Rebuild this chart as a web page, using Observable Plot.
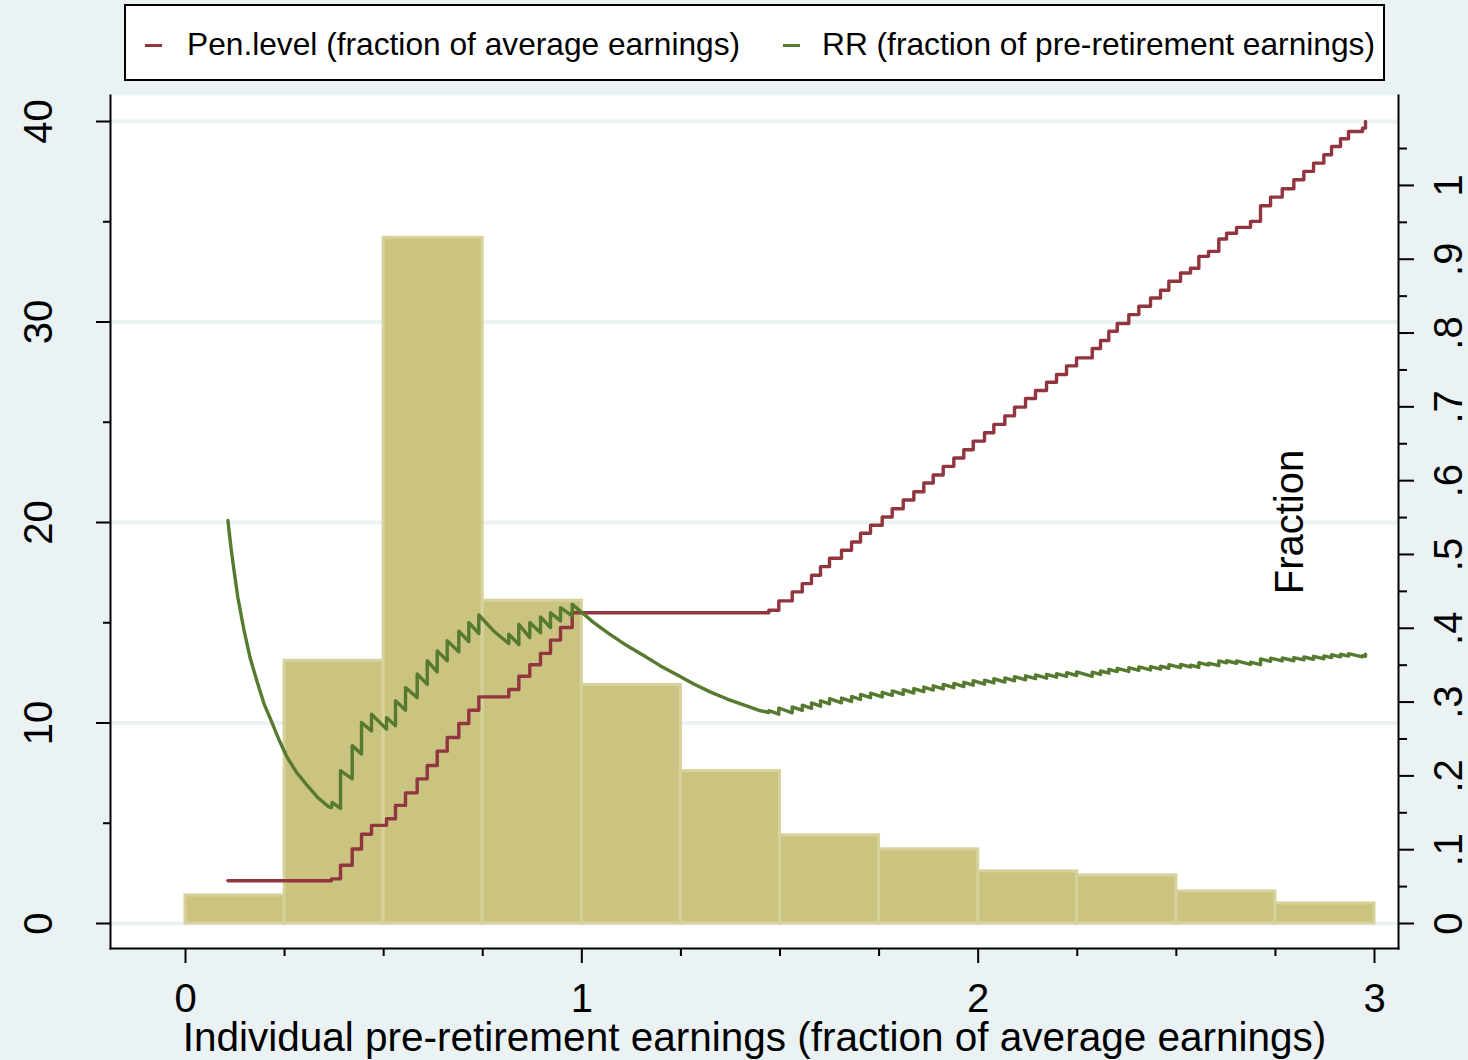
<!DOCTYPE html>
<html>
<head>
<meta charset="utf-8">
<script src="https://cdn.jsdelivr.net/npm/d3@7"></script>
<script src="https://cdn.jsdelivr.net/npm/@observablehq/plot@0.6"></script>
<style>
  html, body { margin: 0; padding: 0; background: #EAF2F3; }
  #page { position: relative; width: 1468px; height: 1060px; background: #EAF2F3;
          font-family: "Liberation Sans", Arial, sans-serif; overflow: hidden; }
  #legend { position: absolute; left: 124px; top: 4px; width: 1261px; height: 77px;
            box-sizing: border-box; border: 2px solid #000; background: #fff; }
  .sw { position: absolute; width: 17px; height: 3px; top: 38px; }
  .lt { position: absolute; top: 23px; font-size: 31.7px; line-height: 1; color: #000; white-space: nowrap; }
  #chart { position: absolute; left: 0; top: 88px; }
</style>
</head>
<body>
<div id="page">
  <div id="legend"></div>
  <div id="chart"></div>
</div>
<script>
// Histogram: share of individuals (percent) by pre-retirement earnings bin (width 0.25)
const binStart = [0, 0.25, 0.5, 0.75, 1, 1.25, 1.5, 1.75, 2, 2.25, 2.5, 2.75];
const binWidth = 0.25;
const binPercent = [1.4, 13.1, 34.2, 16.1, 11.9, 7.6, 4.4, 3.7, 2.6, 2.4, 1.6, 1.0];

// Pension level (fraction of average earnings): step start and level of each step
const penX = [0.107, 0.3684, 0.3911, 0.4206, 0.4441, 0.4693, 0.5072, 0.5299, 0.5551, 0.5846, 0.6099,
  0.6351, 0.6603, 0.6896, 0.7148, 0.7401, 0.8157, 0.8410, 0.8687, 0.8957, 0.9210, 0.9462, 0.9757,
  1.4718, 1.4970, 1.5308, 1.5561, 1.5795, 1.6022, 1.6249, 1.6552, 1.6805, 1.7032, 1.7284, 1.7579,
  1.7831, 1.8109, 1.8377, 1.8629, 1.8866, 1.9118, 1.9386, 1.9638, 1.9875, 2.0160, 2.0395, 2.0673,
  2.0917, 2.1195, 2.1447, 2.1725, 2.1977, 2.2229, 2.2482, 2.2878, 2.3087, 2.3297, 2.3509, 2.3801,
  2.4054, 2.4349, 2.4601, 2.4811, 2.5106, 2.5358, 2.5568, 2.5812, 2.6072, 2.6267, 2.6519, 2.6872,
  2.7124, 2.7377, 2.7672, 2.7965, 2.8217, 2.8462, 2.8722, 2.8916, 2.9142, 2.9344, 2.9697, 2.9773];
const penLevel = [0.058, 0.0605, 0.079, 0.101, 0.121, 0.133, 0.142, 0.160, 0.177, 0.196, 0.214,
  0.2335, 0.252, 0.271, 0.289, 0.307, 0.317, 0.335, 0.3505, 0.366, 0.384, 0.401, 0.421,
  0.4245, 0.4371, 0.4493, 0.4605, 0.4719, 0.4835, 0.4949, 0.5057, 0.5169, 0.5287, 0.5395, 0.5508,
  0.5620, 0.5738, 0.5850, 0.5968, 0.6076, 0.6194, 0.6306, 0.6418, 0.6536, 0.6648, 0.6762, 0.6878,
  0.6996, 0.7114, 0.7222, 0.7334, 0.7439, 0.7555, 0.7663, 0.7790, 0.7899, 0.8024, 0.8129, 0.8250,
  0.8363, 0.8475, 0.8579, 0.8701, 0.8813, 0.8877, 0.9039, 0.9107, 0.9274, 0.9351, 0.9432, 0.9513,
  0.9725, 0.9842, 0.9955, 1.0077, 1.0190, 1.0302, 1.0416, 1.0528, 1.0632, 1.0731, 1.0776, 1.0866];

// Replacement rate (fraction of pre-retirement earnings): [earnings, rate]
const rrPoints = [
  [0.107, 0.546], [0.115, 0.508], [0.122, 0.480], [0.132, 0.442], [0.147, 0.399], [0.163, 0.360],
  [0.181, 0.327], [0.198, 0.298], [0.2145, 0.277], [0.235, 0.250], [0.2566, 0.225], [0.280, 0.205],
  [0.307, 0.187], [0.335, 0.170], [0.3616, 0.158], [0.3684, 0.157], [0.3700, 0.164], [0.3911, 0.156],
  [0.3911, 0.207], [0.4206, 0.196], [0.4206, 0.241], [0.4441, 0.2296], [0.4441, 0.2724], [0.4693, 0.261],
  [0.4693, 0.2836], [0.5072, 0.2634], [0.5072, 0.279], [0.5299, 0.268], [0.5299, 0.3018], [0.5551, 0.289],
  [0.5551, 0.3198], [0.5846, 0.306], [0.5846, 0.338], [0.6099, 0.324], [0.6099, 0.356], [0.6351, 0.341],
  [0.6351, 0.3694], [0.6603, 0.356], [0.6603, 0.383], [0.6896, 0.368], [0.6896, 0.396], [0.7148, 0.382],
  [0.7148, 0.4077], [0.7401, 0.393], [0.7401, 0.418], [0.778, 0.396], [0.8157, 0.3793], [0.8157, 0.392],
  [0.8410, 0.378], [0.8410, 0.4055], [0.8687, 0.3873], [0.8687, 0.4077], [0.8957, 0.394], [0.8957, 0.4154],
  [0.9210, 0.401], [0.9210, 0.421], [0.9462, 0.410], [0.9462, 0.428], [0.9757, 0.4168], [0.9757, 0.4326],
  [1.030, 0.4077], [1.070, 0.392], [1.1145, 0.3762], [1.156, 0.363], [1.1985, 0.349], [1.240, 0.337],
  [1.2825, 0.3244], [1.325, 0.3135], [1.3668, 0.3041], [1.410, 0.296], [1.4508, 0.2882], [1.4718, 0.2859],
  [1.4718, 0.2884], [1.4970, 0.2836], [1.4970, 0.2920], [1.5308, 0.2855], [1.5308, 0.2935], [1.5561, 0.2887],
  [1.5561, 0.2959], [1.5795, 0.2915], [1.5795, 0.2988], [1.6022, 0.2945], [1.6022, 0.3018], [1.6249, 0.2976],
  [1.6249, 0.3046], [1.6552, 0.2990], [1.6552, 0.3055], [1.6805, 0.3009], [1.6805, 0.3076], [1.7032, 0.3035],
  [1.7032, 0.3104], [1.7284, 0.3059], [1.7284, 0.3121], [1.7579, 0.3069], [1.7579, 0.3133], [1.7831, 0.3089],
  [1.7831, 0.3152], [1.8109, 0.3103], [1.8109, 0.3169], [1.8377, 0.3122], [1.8377, 0.3183], [1.8629, 0.3140],
  [1.8629, 0.3204], [1.8866, 0.3163], [1.8866, 0.3221], [1.9118, 0.3178], [1.9118, 0.3240], [1.9386, 0.3195],
  [1.9386, 0.3253], [1.9638, 0.3211], [1.9638, 0.3268], [1.9875, 0.3229], [1.9875, 0.3289], [2.0160, 0.3242],
  [2.0160, 0.3298], [2.0395, 0.3260], [2.0395, 0.3316], [2.0673, 0.3271], [2.0673, 0.3327], [2.0917, 0.3288],
  [2.0917, 0.3345], [2.1195, 0.3301], [2.1195, 0.3356], [2.1447, 0.3317], [2.1447, 0.3367], [2.1725, 0.3324],
  [2.1725, 0.3376], [2.1977, 0.3337], [2.1977, 0.3385], [2.2229, 0.3347], [2.2229, 0.3399], [2.2482, 0.3360],
  [2.2482, 0.3408], [2.2878, 0.3349], [2.2878, 0.3405], [2.3087, 0.3374], [2.3087, 0.3421], [2.3297, 0.3391],
  [2.3297, 0.3444], [2.3509, 0.3413], [2.3509, 0.3458], [2.3801, 0.3415], [2.3801, 0.3466], [2.4054, 0.3430],
  [2.4054, 0.3477], [2.4349, 0.3435], [2.4349, 0.3481], [2.4601, 0.3445], [2.4601, 0.3487], [2.4811, 0.3458],
  [2.4811, 0.3507], [2.5106, 0.3466], [2.5106, 0.3510], [2.5358, 0.3475], [2.5358, 0.3501], [2.5568, 0.3472],
  [2.5568, 0.3535], [2.5812, 0.3502], [2.5812, 0.3528], [2.6072, 0.3493], [2.6072, 0.3557], [2.6267, 0.3531],
  [2.6267, 0.3560], [2.6519, 0.3526], [2.6519, 0.3557], [2.6872, 0.3510], [2.6872, 0.3540], [2.7124, 0.3507],
  [2.7124, 0.3585], [2.7377, 0.3552], [2.7377, 0.3595], [2.7672, 0.3557], [2.7672, 0.3597], [2.7965, 0.3560],
  [2.7965, 0.3603], [2.8217, 0.3571], [2.8217, 0.3611], [2.8462, 0.3580], [2.8462, 0.3620], [2.8722, 0.3587],
  [2.8722, 0.3626], [2.8916, 0.3602], [2.8916, 0.3641], [2.9142, 0.3613], [2.9142, 0.3648], [2.9344, 0.3623],
  [2.9344, 0.3657], [2.9697, 0.3613], [2.9697, 0.3629], [2.9773, 0.3619], [2.9773, 0.3650]
];

// Series names and colours
const seriesNames = ["Pen.level (fraction of average earnings)", "RR (fraction of pre-retirement earnings)"];
const seriesColors = ["#91353F", "#567A2F"];

// Axes
const xMajor = [0, 1, 2, 3];
const xLabels = ["0", "1", "2", "3"];
const xMinor = [0.25, 0.5, 0.75, 1.25, 1.5, 1.75, 2.25, 2.5, 2.75];
const leftMajor = [0, 10, 20, 30, 40];
const leftMinor = [5, 15, 25, 35];
const fracMajor = [0, 0.1, 0.2, 0.3, 0.4, 0.5, 0.6, 0.7, 0.8, 0.9, 1];
const fracLabels = ["0", ".1", ".2", ".3", ".4", ".5", ".6", ".7", ".8", ".9", "1"];
const fracMinor = [0.05, 0.15, 0.25, 0.35, 0.45, 0.55, 0.65, 0.75, 0.85, 0.95, 1.05];
const xTitle = "Individual pre-retirement earnings (fraction of average earnings)";
const yRightTitle = "Fraction";

// Legend
const legend = document.getElementById("legend");
const swX = [19, 657], txtX = [61, 696];
seriesNames.forEach((name, i) => {
  const sw = document.createElement("div");
  sw.className = "sw"; sw.style.left = swX[i] + "px"; sw.style.background = seriesColors[i];
  const t = document.createElement("div");
  t.className = "lt"; t.style.left = txtX[i] + "px"; t.textContent = name;
  legend.appendChild(sw); legend.appendChild(t);
});

// Tables for the marks
const bins = binStart.map((x0, i) => ({x0, x1: x0 + binWidth, pct: binPercent[i]}));
const pen = penX.map((x, i) => ({x, v: penLevel[i]}));
const rr = rrPoints.map(([x, v]) => ({x, v}));

// The right (fraction) axis shares the plot height: its top matches the highest pension level
const k = 40 / d3.max(penLevel);
const frac = v => v * k;
const fracLabel = v => fracLabels[fracMajor.findIndex(f => Math.abs(frac(f) - v) < 1e-6)];
const xLabel = v => xLabels[xMajor.indexOf(v)];

const chart = Plot.plot({
  width: 1468,
  height: 972,
  marginLeft: 110,
  marginRight: 70,
  marginTop: 7,
  marginBottom: 112,
  x: {domain: [0, 3], range: [185, 1374], label: null},
  y: {domain: [0, 40], range: [835, 33], label: null},
  style: {fontFamily: '"Liberation Sans", Arial, sans-serif', background: "transparent", overflow: "visible"},
  marks: [
    Plot.frame({fill: "white", stroke: null}),
    Plot.gridY(leftMajor, {stroke: "#EAF2F3", strokeOpacity: 1, strokeWidth: 4}),
    Plot.rectY(bins, {x1: "x0", x2: "x1", y: "pct", fill: "#CBC380", stroke: "#D7D29C", strokeWidth: 3, inset: 0}),
    Plot.line(pen, {x: "x", y: d => frac(d.v), curve: "step-after", stroke: seriesColors[0], strokeWidth: 3.4}),
    Plot.line(rr, {x: "x", y: d => frac(d.v), stroke: seriesColors[1], strokeWidth: 3.4}),
    Plot.text([yRightTitle], {text: d => d, frameAnchor: "right", dx: -96, rotate: -90,
      textAnchor: "middle", lineAnchor: "bottom", fontSize: 40}),
    Plot.text([xTitle], {text: d => d, frameAnchor: "bottom", dy: 102, lineAnchor: "bottom", fontSize: 40.5}),
    Plot.axisY(leftMajor, {anchor: "left", tickSize: 14, tickPadding: 45, tickRotate: -90,
      textAnchor: "middle", lineAnchor: "bottom", fontSize: 40, label: null, strokeWidth: 2}),
    Plot.axisY(leftMinor, {anchor: "left", tickSize: 7, tickFormat: () => "", label: null, strokeWidth: 2}),
    Plot.axisY(fracMajor.map(frac), {anchor: "right", tickSize: 15, tickPadding: 20, tickRotate: -90,
      textAnchor: "middle", lineAnchor: "top", tickFormat: fracLabel, fontSize: 40, label: null, strokeWidth: 2}),
    Plot.axisY(fracMinor.map(frac), {anchor: "right", tickSize: 8, tickFormat: () => "", label: null, strokeWidth: 2}),
    Plot.axisX(xMajor, {anchor: "bottom", tickSize: 15, tickPadding: 20, tickFormat: xLabel, fontSize: 40, label: null, strokeWidth: 2}),
    Plot.axisX(xMinor, {anchor: "bottom", tickSize: 8, tickFormat: () => "", label: null, strokeWidth: 2}),
    Plot.frame({anchor: "left", stroke: "black", strokeWidth: 2}),
    Plot.frame({anchor: "right", stroke: "black", strokeWidth: 2}),
    Plot.frame({anchor: "bottom", stroke: "black", strokeWidth: 2})
  ]
});
document.getElementById("chart").appendChild(chart);
</script>
</body>
</html>
